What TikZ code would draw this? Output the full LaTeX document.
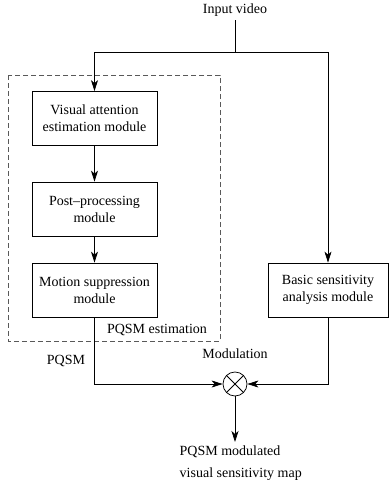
\documentclass[tikz,border=0pt]{standalone}
\usepackage{fontspec}
\setmainfont{Liberation Serif}
\usetikzlibrary{arrows.meta}

\begin{document}
\begin{tikzpicture}[x=1pt,y=-1pt,line width=0.75pt,font=\fontsize{14}{17}\selectfont,
        >={Stealth[length=11pt,width=7pt,inset=3pt]},
        module/.style={draw, align=center, minimum width=125pt, minimum height=54pt},
        mixer/.style={draw, circle, minimum size=24pt, inner sep=0pt,
            path picture={\draw (path picture bounding box.north west) -- (path picture bounding box.south east)
                (path picture bounding box.north east) -- (path picture bounding box.south west);}}]
        \useasboundingbox (0,0) rectangle (389,483);
        \node (input) at (235,10) {Input video};
        \coordinate (split) at (235,52);

        \node[module] (vam) at (94.5,118.5) {Visual attention\\estimation module};
        \node[module] (post) at (94.5,209) {Post--processing\\module};
        \node[module] (motion) at (94.5,290) {Motion suppression\\module};
        \node[module, minimum width=120pt] (basic) at (328,290) {Basic sensitivity\\analysis module};
        \draw[dashed, dash pattern=on 5pt off 3pt, gray!70!black] (8,75) rectangle (220,341);
        \node (est) at (157,330) {PQSM estimation};

        \node (pqsm) at (66,361) {PQSM};
        \node (modul) at (235,354) {Modulation};
        \node[mixer] (mult) at (235,384) {};
        \node[anchor=north west, align=left, font=\fontsize{14}{22}\selectfont] (out) at (176,442) {PQSM modulated\\visual sensitivity map};

        \draw (input) -- (split);
        \draw[->] (split) -| (vam.north);
        \draw[->] (split) -| (basic.north);
        \draw[->] (vam) -- (post);
        \draw[->] (post) -- (motion);
        \draw[->] (motion.south) |- (mult.west);
        \draw[->] (basic.south) |- (mult.east);
        \draw[->] (mult.south) -- (mult.south |- out.north);
    \end{tikzpicture}
\end{document}
